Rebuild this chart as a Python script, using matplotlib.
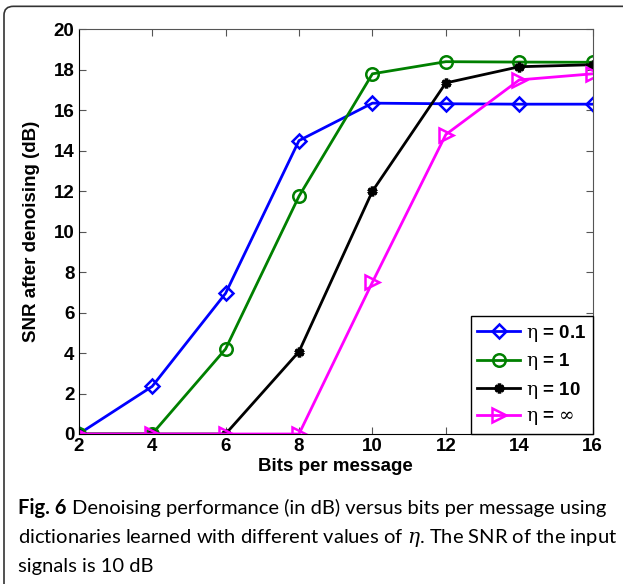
import numpy as np
import matplotlib
matplotlib.use('Agg')
import matplotlib.pyplot as plt
from matplotlib.patches import FancyBboxPatch

plt.rcParams['font.family'] = ['Liberation Sans', 'DejaVu Sans']
plt.rcParams['mathtext.fontset'] = 'dejavuserif'

bits = [2, 4, 6, 8, 10, 12, 14, 16]
snr_01 = [0, 2.35, 6.95, 14.5, 16.35, 16.32, 16.3, 16.3]
snr_1 = [0, 0, 4.2, 11.75, 17.8, 18.4, 18.38, 18.37]
snr_10 = [0, 0, 0, 4.07, 12.0, 17.35, 18.15, 18.25]
snr_inf = [0, 0, 0, 0, 7.5, 14.8, 17.5, 17.8]
labels = [r'$\mathrm{\eta}$ = 0.1', r'$\mathrm{\eta}$ = 1',
          r'$\mathrm{\eta}$ = 10', r'$\mathrm{\eta}$ = $\infty$']

W, H = 623, 584
fig = plt.figure(figsize=(W / 100, H / 100), dpi=100)
ax = fig.add_axes([78.7 / W, 1 - 434 / H, 514 / W, 404.7 / H])

ax.plot(bits, snr_01, color='#0000ff', lw=2, marker='D', ms=7, mfc='none', mew=1.8, label=labels[0])
ax.plot(bits, snr_1, color='#008000', lw=2, marker='o', ms=9, mfc='none', mew=1.8, label=labels[1])
ax.plot(bits, snr_10, color='black', lw=2, marker=(6, 2, 0), ms=7, mew=2.5, label=labels[2])
ax.plot(bits, snr_inf, color='#ff00ff', lw=2, marker='>', ms=10, mfc='none', mew=1.8, label=labels[3])

ax.set_xlim(2, 16)
ax.set_ylim(0, 20)
ax.set_xticks(np.arange(2, 17, 2))
ax.set_yticks(np.arange(0, 21, 2))
ax.tick_params(direction='in', length=5, top=True, right=True, labelsize=13.5,
               color='#555555', pad=3)
for lbl in ax.get_xticklabels() + ax.get_yticklabels():
    lbl.set_fontweight('bold')
for s in ax.spines.values():
    s.set_color('#555555')
ax.spines['bottom'].set_color('black')
ax.spines['left'].set_color('black')
ax.set_xlabel('Bits per message', fontsize=13.5, fontweight='bold', labelpad=2)
ax.set_ylabel('SNR after denoising (dB)', fontsize=13.5, fontweight='bold', labelpad=10)

leg = ax.legend(loc='lower right', prop={'weight': 'bold', 'size': 13.5},
                fancybox=False, edgecolor='black', framealpha=1,
                borderaxespad=0.0, handlelength=2.3, handletextpad=0.3,
                labelspacing=0.4, borderpad=0.35)
leg.get_frame().set_linewidth(1)

# rounded border around the figure
border = FancyBboxPatch((4 / W, -0.05), 1.1, 1 - 4 / H + 0.05 - 0.004,
                        boxstyle='round,pad=0,rounding_size=0.015',
                        transform=fig.transFigure, fill=False,
                        edgecolor='#333333', lw=1.2, clip_on=False)
fig.patches.append(border)

# caption
cap_kw = dict(fontsize=14.5, family=['Lato', 'DejaVu Sans'], va='baseline')
fig.canvas.draw()
r = fig.canvas.get_renderer()
t1 = fig.text(18 / W, 1 - 514 / H, 'Fig. 6', fontweight='bold', **cap_kw)
bb = t1.get_window_extent(renderer=r)
fig.text((bb.x1 + 5) / W, 1 - 514 / H,
         'Denoising performance (in dB) versus bits per message using', **cap_kw)
fig.text(18 / W, 1 - 543 / H,
         r'dictionaries learned with different values of $\eta$. The SNR of the input', **cap_kw)
fig.text(18 / W, 1 - 572 / H, 'signals is 10 dB', **cap_kw)

fig.savefig('out.png', dpi=100)
